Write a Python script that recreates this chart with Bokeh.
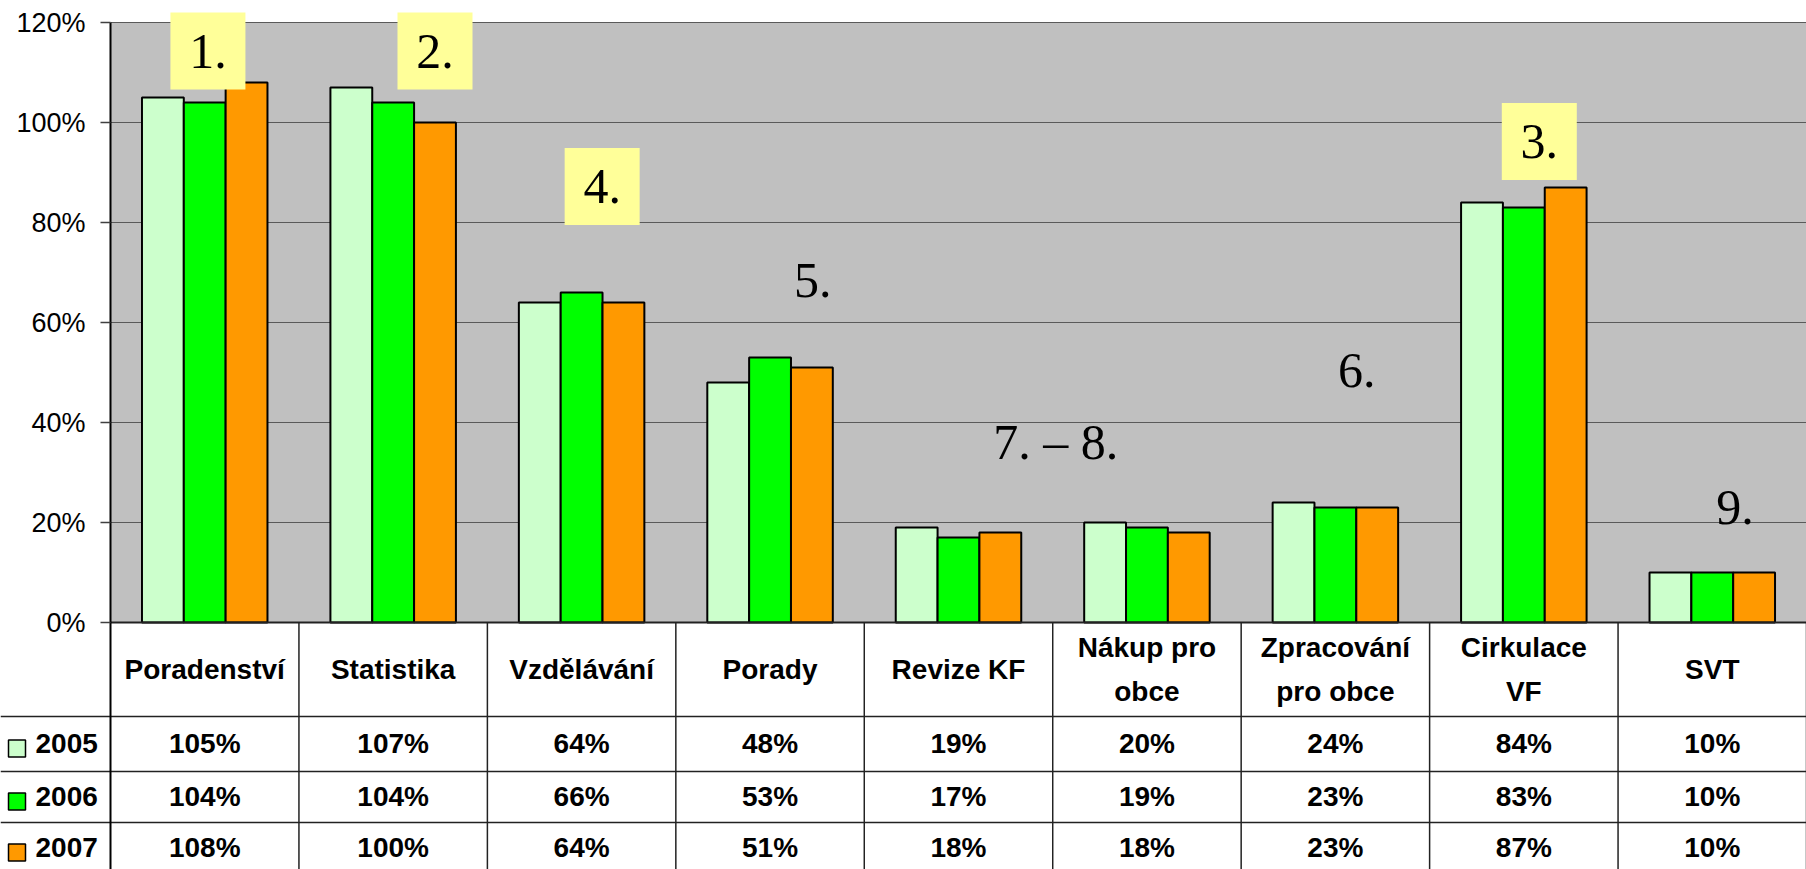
from bokeh.plotting import figure
from bokeh.models import (Range1d, FixedTicker, PrintfTickFormatter, LinearAxis,
                          BoxAnnotation, ColumnDataSource)
from bokeh.transform import dodge
from bokeh.core.properties import value
from bokeh.embed import file_html
from bokeh.resources import INLINE

# ---------------- data ----------------
categories = ["Poradenství", "Statistika", "Vzdělávání", "Porady", "Revize KF",
              "Nákup pro obce", "Zpracování pro obce", "Cirkulace VF", "SVT"]
header_labels = ["Poradenství", "Statistika", "Vzdělávání", "Porady", "Revize KF",
                 "Nákup pro\nobce", "Zpracování\npro obce", "Cirkulace\nVF", "SVT"]
years = ["2005", "2006", "2007"]
v2005 = [105, 107, 64, 48, 19, 20, 24, 84, 10]
v2006 = [104, 104, 66, 53, 17, 19, 23, 83, 10]
v2007 = [108, 100, 64, 51, 18, 18, 23, 87, 10]
y_ticks = [0, 20, 40, 60, 80, 100, 120]
rank_labels = ["1.", "2.", "4.", "5.", "7. – 8.", "6.", "3.", "9."]
rank_boxed = [True, True, True, False, False, False, True, False]

# ---------------- layout / style ----------------
W, H = 1806, 869
LEFT = 110                 # pixel column of the value axis
PX_PER_UNIT = 5.0          # pixels per 1 % on the value axis
ZERO_PX = 622              # pixel row of 0 %
NCAT = len(categories)
PX_PER_CAT = (W - LEFT) / NCAT
colors = ["#CCFFCC", "#00FF00", "#FF9900"]
BAR_W = 0.222
FONT = "Liberation Sans"
SERIF = "Liberation Serif"
LINE = "#222222"


def py(pix):
    """pixel row -> value-axis coordinate"""
    return (ZERO_PX - pix) / PX_PER_UNIT


def px(pix):
    """pixel column -> category-axis coordinate"""
    return (pix - LEFT) / PX_PER_CAT


# positions of the rank notes (data coords of the chart)
rank_x = [0.517, 1.722, 2.609, 3.726, 5.016, 6.614, 7.582, 8.62]
rank_y = [114.3, 114.3, 87.2, 68.4, 36.2, 50.4, 96.2, 23.0]

xc = [i + 0.5 for i in range(NCAT)]
src = ColumnDataSource(dict(xc=xc, cat=categories, v2005=v2005, v2006=v2006, v2007=v2007))

p = figure(width=W, height=H, x_range=Range1d(px(0), NCAT),
           y_range=Range1d(py(H), py(0)), output_backend="svg", toolbar_location=None,
           title=None, x_axis_location=None, y_axis_location=None, min_border=0,
           background_fill_color="white", border_fill_color="white", outline_line_color=None)
p.grid.visible = False

# plot area
p.add_layout(BoxAnnotation(left=0, right=NCAT, bottom=0, top=120, fill_color="#C0C0C0",
                           fill_alpha=1, line_alpha=0, level="image"))
p.segment(x0=[0] * (len(y_ticks) - 1), y0=y_ticks[1:], x1=[NCAT] * (len(y_ticks) - 1),
          y1=y_ticks[1:], line_color="#5a5a5a", line_width=1)

yax = LinearAxis(fixed_location=0, ticker=FixedTicker(ticks=y_ticks),
                 formatter=PrintfTickFormatter(format="%d%%"), bounds=(py(H), 120))
yax.major_label_text_font = FONT
yax.major_label_text_font_size = "27px"
yax.major_label_text_color = "black"
yax.axis_line_color = "black"
yax.axis_line_width = 2
yax.major_tick_line_color = "#404040"
yax.major_tick_line_width = 1.5
yax.major_tick_out = 10
yax.major_tick_in = 0
yax.minor_tick_out = 0
yax.minor_tick_in = 0
yax.major_label_standoff = 15
p.add_layout(yax, "left")

for off, col, c in zip([-BAR_W, 0, BAR_W], ["v2005", "v2006", "v2007"], colors):
    p.vbar(x=dodge("xc", off), top=col, width=BAR_W, source=src,
           fill_color=c, line_color="black", line_width=2)

p.segment(x0=[0], y0=[0], x1=[NCAT], y1=[0], line_color=LINE, line_width=2)

bx = [x for x, b in zip(rank_x, rank_boxed) if b]
by = [y for y, b in zip(rank_y, rank_boxed) if b]
p.rect(x=bx, y=by, width=75, height=77, width_units="screen", height_units="screen",
       fill_color="#FFFF99", line_color=None)
p.text(x=rank_x, y=rank_y, text=rank_labels, text_font=value(SERIF),
       text_font_size="50px", text_align="center", text_baseline="middle",
       text_color="black")

# ---------------- data table under the chart ----------------
row_edges_px = [716, 771, 822]
row_text_px = [743, 796, 847]
header_px = 669

row_edges = [py(v) for v in row_edges_px]
p.segment(x0=[px(0)] * 3, y0=row_edges, x1=[NCAT] * 3, y1=row_edges,
          line_color=LINE, line_width=1.5)
vx = list(range(1, NCAT + 1))
p.segment(x0=vx, y0=[0] * len(vx), x1=vx, y1=[py(H)] * len(vx),
          line_color=LINE, line_width=1.5)

p.text(x=xc, y=[py(header_px)] * NCAT, text=header_labels,
       text_font=value(FONT), text_font_style="bold", text_font_size="28px",
       text_align="center", text_baseline="middle", text_line_height=1.42,
       text_color="black")

for vals, ty in zip([v2005, v2006, v2007], row_text_px):
    p.text(x=xc, y=[py(ty)] * NCAT, text=[f"{v}%" for v in vals],
           text_font=value(FONT), text_font_style="bold", text_font_size="28px",
           text_align="center", text_baseline="middle", text_color="black")

# legend column of the table
p.rect(x=[px(16.5)] * 3, y=[py(t + 5) for t in row_text_px], width=17, height=17,
       width_units="screen", height_units="screen", fill_color=colors,
       line_color="black", line_width=1.5)
p.text(x=[px(35)] * 3, y=[py(t) for t in row_text_px], text=years, text_font=value(FONT),
       text_font_style="bold", text_font_size="28px", text_align="left",
       text_baseline="middle", text_color="black")

open("out.html", "w").write(file_html(p, INLINE))
